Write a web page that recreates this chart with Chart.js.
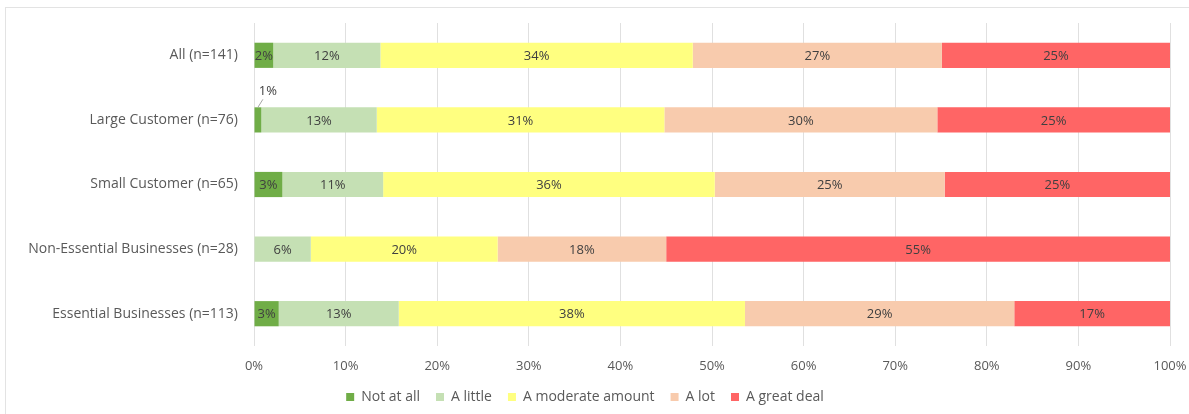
<!DOCTYPE html>
<html>
<head>
<meta charset="utf-8">
<title>Impact by customer group</title>
<script src="https://cdn.jsdelivr.net/npm/chart.js@4/dist/chart.umd.min.js"></script>
<style>
  html, body { margin: 0; padding: 0; background: #fff; }
  #frame { position: absolute; left: 5px; top: 7px; width: 1200px; height: 420px; border: 1px solid #e3e3e3; box-sizing: border-box; }
  #wrap { position: absolute; left: 0; top: 0; width: 1189px; height: 414px; }
</style>
</head>
<body>
<div id="frame"></div>
<div id="wrap"><canvas id="myChart"></canvas></div>
<script>
'use strict';

// Categories (top to bottom) and the five answer series, in percent
var categories = ['All (n=141)', 'Large Customer (n=76)', 'Small Customer (n=65)', 'Non-Essential Businesses (n=28)', 'Essential Businesses (n=113)'];
var seriesNames = ['Not at all', 'A little', 'A moderate amount', 'A lot', 'A great deal'];
var notAtAll = [2.1, 0.8, 3.1, 0, 2.7];
var aLittle = [11.7, 12.6, 11.0, 6.2, 13.1];
var moderate = [34.1, 31.4, 36.2, 20.4, 37.8];
var aLot = [27.2, 29.8, 25.1, 18.4, 29.4];
var greatDeal = [24.9, 25.4, 24.6, 55.0, 17.0];
var tickLabels = ['0%', '10%', '20%', '30%', '40%', '50%', '60%', '70%', '80%', '90%', '100%'];

var colors = ['#70AD47', '#C5E0B4', '#FFFF80', '#F8CBAD', '#FF6565'];
var fontFamily = '"Open Sans", "Liberation Sans", Arial, sans-serif';

(function () {
  var values = [notAtAll, aLittle, moderate, aLot, greatDeal];
  var dataset = [];
  for (var i = 0; i < seriesNames.length; i++) {
    dataset.push({
      label: seriesNames[i],
      data: values[i],
      backgroundColor: colors[i],
      borderWidth: 0,
      barPercentage: 0.39,
      categoryPercentage: 1.0
    });
  }

  // Percent labels in the middle of every segment, small ones go above with a leader line
  var segmentLabels = {
    id: 'segmentLabels',
    afterDatasetsDraw: function (chart) {
      var ctx = chart.ctx;
      ctx.save();
      ctx.font = '13px ' + fontFamily;
      ctx.fillStyle = '#404040';
      ctx.strokeStyle = '#a6a6a6';
      ctx.lineWidth = 1;
      ctx.textAlign = 'center';
      ctx.textBaseline = 'middle';
      chart.data.datasets.forEach(function (ds, di) {
        var meta = chart.getDatasetMeta(di);
        meta.data.forEach(function (bar, j) {
          var v = ds.data[j];
          if (!v) return;
          var txt = Math.round(v) + '%';
          var w = Math.abs(bar.x - bar.base);
          var cx = (bar.x + bar.base) / 2;
          if (w < 12) {
            var top = bar.y - bar.height / 2;
            ctx.beginPath();
            ctx.moveTo(cx, top);
            ctx.lineTo(cx + 5, top - 8);
            ctx.stroke();
            ctx.fillText(txt, cx + 10, top - 16);
          } else {
            ctx.fillText(txt, cx, bar.y + 1);
          }
        });
      });
      ctx.restore();
    }
  };

  var options = {
    indexAxis: 'y',
    responsive: true,
    maintainAspectRatio: false,
    animation: false,
    layout: { padding: { top: 23, right: 19, bottom: 0, left: 0 } },
    scales: {
      x: {
        stacked: true,
        min: 0,
        max: 100,
        border: { display: false },
        grid: { color: '#e0e0e0', lineWidth: 1, drawTicks: false },
        ticks: {
          stepSize: 10,
          padding: 12,
          color: '#595959',
          font: { family: fontFamily, size: 13 },
          callback: function (val, idx) { return tickLabels[idx]; }
        },
        afterFit: function (scale) {
          scale.height = 28;
          // let the last tick label hang past the plot like the original
          scale.paddingLeft = 0;
          scale.paddingRight = 0;
        }
      },
      y: {
        stacked: true,
        border: { display: false },
        grid: { display: false },
        ticks: {
          padding: 8,
          color: '#595959',
          font: { family: fontFamily, size: 14 }
        },
        afterFit: function (scale) { scale.width = 254; }
      }
    },
    plugins: {
      legend: {
        position: 'bottom',
        labels: {
          boxWidth: 8,
          boxHeight: 8,
          padding: 16,
          color: '#595959',
          font: { family: fontFamily, size: 14 }
        }
      },
      tooltip: { enabled: false }
    }
  };

  new Chart(document.getElementById('myChart'), {
    type: 'bar',
    data: { labels: categories, datasets: dataset },
    options: options,
    plugins: [segmentLabels]
  });
})();
</script>
</body>
</html>
